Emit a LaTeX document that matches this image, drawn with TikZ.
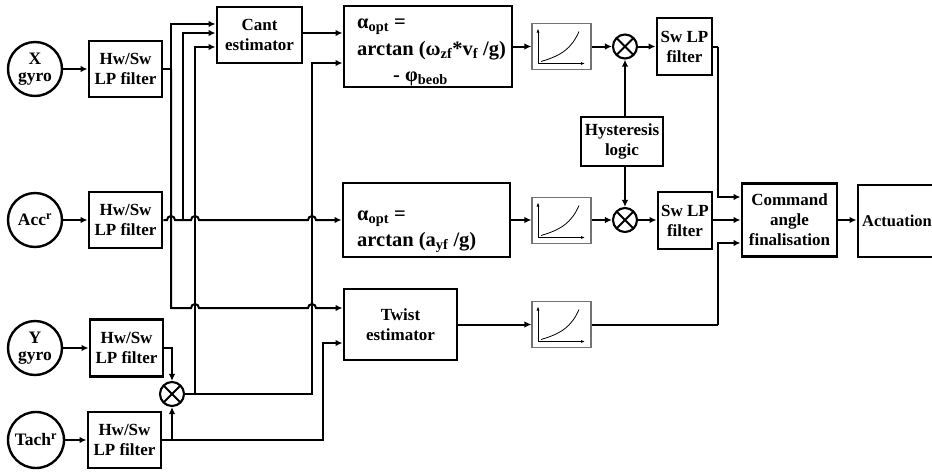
\documentclass[tikz,border=0pt]{standalone}
\usepackage{fontspec}
\setmainfont{Liberation Serif}
\usetikzlibrary{arrows.meta}
\tikzset{
 blk/.style={draw, line width=2.9pt, align=center, inner sep=0pt, font=\fontsize{17}{20}\bfseries\selectfont},
 src/.style={draw, circle, line width=2.4pt, minimum size=54pt, inner sep=0pt, align=center, font=\fontsize{17.5}{16.5}\bfseries\selectfont},
 mult/.style={draw, circle, line width=2.1pt, minimum size=24pt, inner sep=0pt,
   path picture={\draw[line width=1.9pt] (path picture bounding box.north west) -- (path picture bounding box.south east)
     (path picture bounding box.north east) -- (path picture bounding box.south west);}},
 crv/.style={draw=black!55, line width=1.2pt, inner sep=0pt, minimum width=59pt, minimum height=46pt},
 wire/.style={line width=2pt},
 conn/.style={wire, -{Latex[length=7pt,width=6.5pt]}},
 axis/.style={line width=0.8pt, -{Latex[length=4pt,width=3pt]}},
 atext/.style={anchor=base west, inner sep=0pt, font=\fontsize{20.5}{26}\bfseries\selectfont},
}
\newcommand\crvaxes[1]{%
 \draw[axis] ([shift={(-23.5,17)}]#1.center) -- ([shift={(-23.5,-18)}]#1.center);
 \draw[axis] ([shift={(-23.5,17)}]#1.center) -- ([shift={(23.5,17)}]#1.center);
 \draw[line width=0.8pt] ([shift={(-20.5,15)}]#1.center) .. controls ([shift={(0,9)}]#1.center) and ([shift={(10,2)}]#1.center) .. ([shift={(17.5,-15)}]#1.center);
}
\begin{document}
\begin{tikzpicture}[x=1pt,y=-1pt]
\useasboundingbox (0,0) rectangle (932,472);
% sources
\node[src] (xg) at (35,69) {X\\gyro};
\node[src] (acc) at (35,220) {Acc\textsuperscript{r}};
\node[src] (yg) at (35,348) {Y\\gyro};
\node[src, minimum size=56pt] (tach) at (36,440) {Tach\textsuperscript{r}};
% filters
\node[blk, minimum width=73pt, minimum height=56pt] (f1) at (125.5,69) {Hw/Sw\\LP filter};
\node[blk, minimum width=73pt, minimum height=56pt] (f2) at (125.5,220) {Hw/Sw\\LP filter};
\node[blk, minimum width=73pt, minimum height=57pt] (f3) at (126.5,348) {Hw/Sw\\LP filter};
\node[blk, minimum width=73pt, minimum height=56pt] (f4) at (124.5,440) {Hw/Sw\\LP filter};
\node[mult] (m3) at (172,394) {};
% estimators
\node[blk, minimum width=85pt, minimum height=56pt] (cant) at (259.5,35) {Cant\\estimator};
\node[blk, minimum width=113pt, minimum height=71pt] (twist) at (400.5,324.5) {Twist\\estimator};
% alpha text
\node[atext] (a1l1) at (357,28) {α\textsubscript{opt} =};
\node[atext] (a1l2) at (357,55) {arctan (ω\textsubscript{zf}*v\textsubscript{f} /g)};
\node[atext] (a1l3) at (393,81) {- φ\textsubscript{beob}};
\node[atext] (a2l1) at (357,220) {α\textsubscript{opt} =};
\node[atext] (a2l2) at (357,246) {arctan (a\textsubscript{yf} /g)};
\node[blk, minimum width=168pt, minimum height=81pt] (a1) at (428,46.5) {};
\node[blk, minimum width=167pt, minimum height=74pt] (a2) at (426.5,220) {};
% curve boxes
\node[crv] (c1) at (561.5,46.5) {};
\node[crv] (c2) at (561.5,220.5) {};
\node[crv] (c3) at (561.5,324.5) {};
\crvaxes{c1}\crvaxes{c2}\crvaxes{c3}
% multipliers
\node[mult] (m1) at (625,46.5) {};
\node[mult] (m2) at (625,220) {};
\node[blk, minimum width=82pt, minimum height=49pt] (hyst) at (622,141.5) {Hysteresis\\logic};
\node[blk, minimum width=55pt, minimum height=57pt] (s1) at (684.5,46.5) {Sw LP\\filter};
\node[blk, minimum width=54pt, minimum height=57pt] (s2) at (685,220.5) {Sw LP\\filter};
\node[blk, minimum width=95pt, minimum height=73pt] (cmd) at (789.5,220) {Command\\angle\\finalisation};
\node[blk, minimum width=84pt, minimum height=72pt] (act) at (900,221) {};
\node[anchor=west, inner sep=0pt, font=\fontsize{16.5}{20}\bfseries\selectfont] (actt) at (862,221) {Actuation};
% coordinates
\coordinate (j1) at (171,69);
\coordinate (j2) at (183,220);
\coordinate (j3) at (195,394);
\coordinate (j4) at (172,440);
\coordinate (k1) at (718,46.5);
\coordinate (k2) at (718,324.5);
% source to filter
\draw[conn] (xg) -- (f1);
\draw[conn] (acc) -- (f2);
\draw[conn] (yg) -- (f3);
\draw[conn] (tach) -- (f4);
% X gyro bus
\draw[wire] (f1.east) -- (j1);
\draw[conn] (j1) |- ([yshift=11pt]cant.west);
\draw[conn] (j1) -- (171,308) -- (191,308) arc[start angle=180,end angle=0,radius=4pt] -- (308,308) arc[start angle=180,end angle=0,radius=4pt] -- ([yshift=16.5pt]twist.west);
% Acc bus
\draw[conn] (f2.east) -- (167,220) arc[start angle=180,end angle=0,radius=4pt] -- (191,220) arc[start angle=180,end angle=0,radius=4pt] -- (308,220) arc[start angle=180,end angle=0,radius=4pt] -- (a2.west);
\draw[conn] (j2) |- ([yshift=2pt]cant.west);
% multiplier bus
\draw[conn] (f3.east) -| (m3.north);
\draw[conn] (j4) -- (m3.south);
\draw[conn] (f4.east) -- (323,440) |- ([yshift=-18.5pt]twist.west);
\draw[conn] (m3.east) -- (312,394) |- ([yshift=-16.5pt]a1.west);
\draw[conn] (j3) |- ([yshift=-12pt]cant.west);
% cant to alpha
\draw[conn] ([yshift=2pt]cant.east) -- ([yshift=2pt]cant.east -| a1.west);
% right part
\draw[conn] (a1.east) -- (c1.west);
\draw[conn] (c1.east) -- (m1.west);
\draw[conn] (m1.east) -- (s1.west);
\draw[conn] (a2.east) -- (a2.east -| c2.west);
\draw[conn] (c2.east |- m2) -- (m2.west);
\draw[conn] (m2.east) -- (m2.east -| s2.west);
\draw[conn] (twist.east) -- (c3.west);
\draw[conn] (hyst.north -| m1) -- (m1.south);
\draw[conn] (hyst.south -| m2) -- (m2.north);
\draw[wire] (s1.east |- k1) -- (k1);
\draw[conn] (k1) |- ([yshift=23pt]cmd.west);
\draw[conn] (s2.east |- cmd) -- (cmd.west);
\draw[wire] (c3.east) -- (k2);
\draw[conn] (k2) |- ([yshift=-23pt]cmd.west);
\draw[conn] (cmd.east) -- (cmd.east -| act.west);
\end{tikzpicture}
\end{document}
